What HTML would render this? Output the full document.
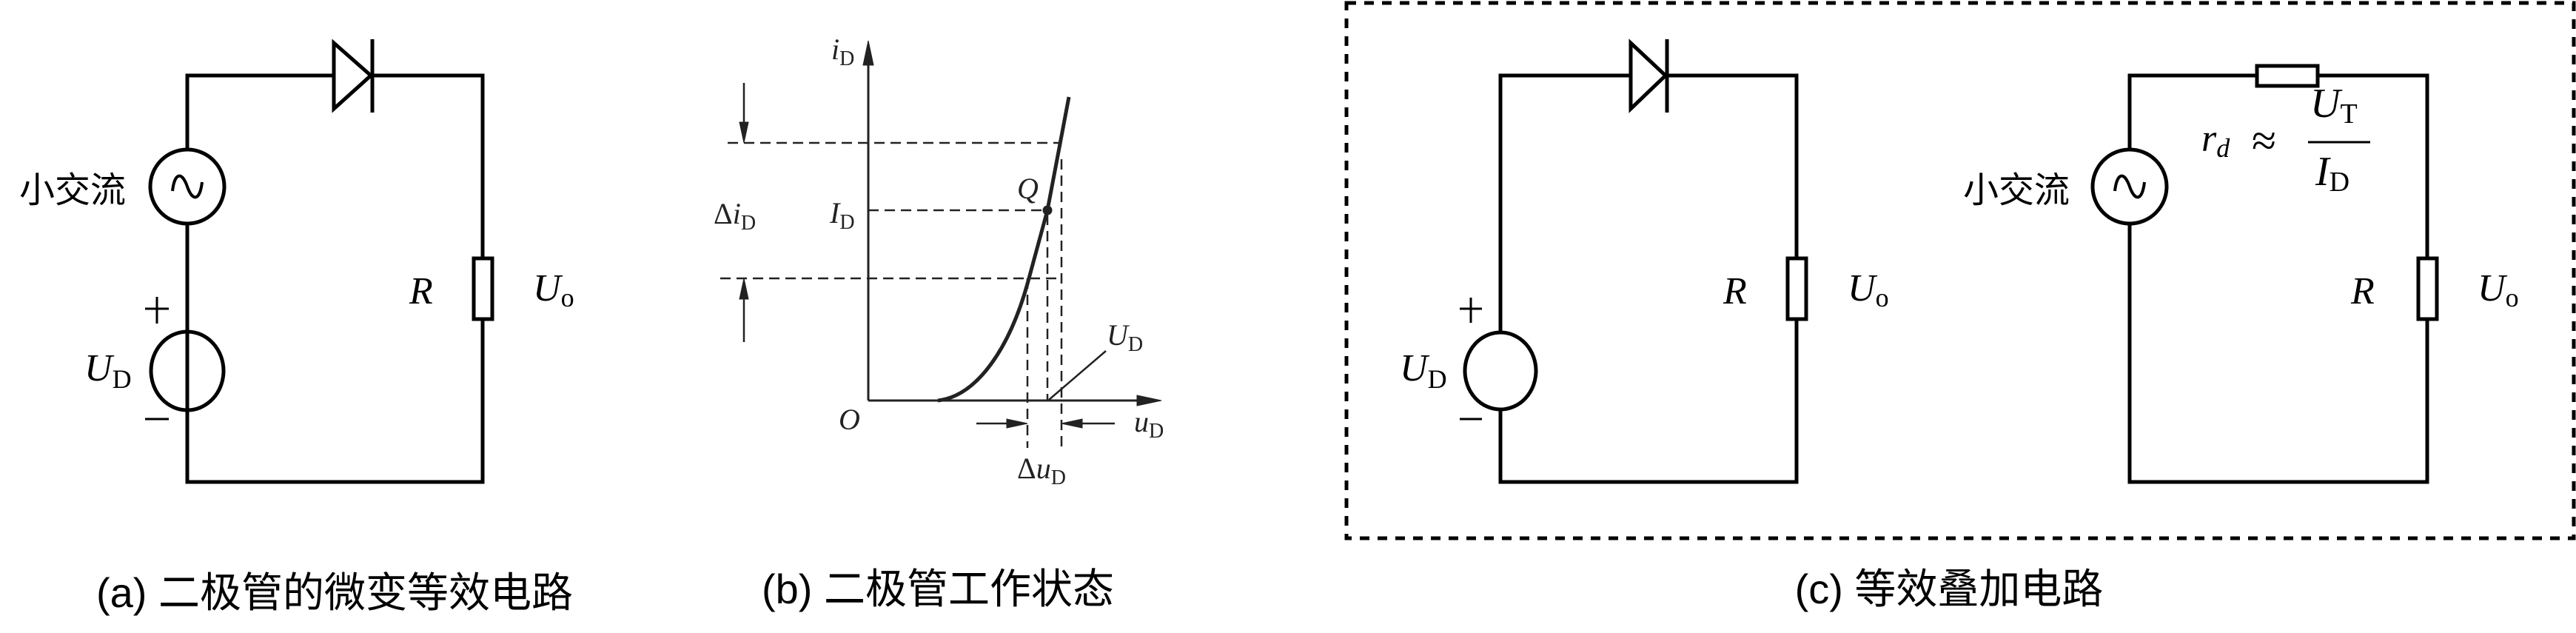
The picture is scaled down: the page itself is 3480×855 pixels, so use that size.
<!DOCTYPE html>
<html><head><meta charset="utf-8"><style>
html,body{margin:0;padding:0;background:#fff;}
svg{display:block;}
.s{font-family:"Liberation Serif",serif;font-style:italic;}
.r{font-family:"Liberation Serif",serif;font-style:normal;}
.c{font-family:"Liberation Sans","Noto Sans CJK SC",sans-serif;}
</style></head><body>
<svg width="3480" height="855" viewBox="0 0 3480 855" xmlns="http://www.w3.org/2000/svg">
<g stroke="#000" stroke-width="5" fill="none">
<polyline points="253,202 253,102 652,102 652,349"/>
<polyline points="652,431 652,651 253,651 253,554"/>
<line x1="253" y1="302" x2="253" y2="448"/>
<polygon points="451,58 451,147 501,102" fill="#fff"/>
<line x1="503" y1="53" x2="503" y2="152"/>
<circle cx="253" cy="252" r="50" fill="#fff"/>
<path d="M233,258 C236,232 246,232 253,252 C260,272 270,272 273,246" stroke-width="4"/>
<ellipse cx="253" cy="501" rx="49" ry="53" fill="#fff"/>
<line x1="253" y1="448" x2="253" y2="554"/>
<rect x="640" y="349" width="25" height="82" fill="#fff"/>
<line x1="196" y1="417" x2="228" y2="417" stroke-width="3"/>
<line x1="212" y1="401" x2="212" y2="437" stroke-width="3"/>
<line x1="196" y1="566" x2="228" y2="566" stroke-width="3"/>
<rect x="1819" y="4" width="1658" height="723" stroke-width="5" stroke-dasharray="13,11"/>
<polyline points="2027,448 2027,102 2427,102 2427,349"/>
<polyline points="2427,431 2427,651 2027,651 2027,554"/>
<polygon points="2203,58 2203,147 2250,102" fill="#fff"/>
<line x1="2252" y1="53" x2="2252" y2="152"/>
<ellipse cx="2027" cy="501" rx="48" ry="52" fill="#fff"/>
<rect x="2415" y="349" width="25" height="82" fill="#fff"/>
<line x1="1972" y1="417" x2="2002" y2="417" stroke-width="3"/>
<line x1="1987" y1="402" x2="1987" y2="436" stroke-width="3"/>
<line x1="1972" y1="566" x2="2002" y2="566" stroke-width="3"/>
<polyline points="2877,202 2877,102 3279,102 3279,349"/>
<polyline points="3279,431 3279,651 2877,651 2877,302"/>
<rect x="3049" y="89" width="82" height="27" fill="#fff"/>
<circle cx="2877" cy="252" r="50" fill="#fff"/>
<path d="M2857,258 C2860,232 2870,232 2877,252 C2884,272 2894,272 2897,246" stroke-width="4"/>
<rect x="3267" y="349" width="25" height="82" fill="#fff"/>
<line x1="3118" y1="192" x2="3202" y2="192" stroke-width="3"/>
</g>
<g stroke="#222" fill="none">
<line x1="1173" y1="541" x2="1173" y2="75" stroke-width="3"/>
<polygon points="1173,55 1166,88 1180,88" fill="#222"/>
<line x1="1173" y1="541" x2="1550" y2="541" stroke-width="3"/>
<polygon points="1569,541 1536,534 1536,548" fill="#222"/>
<path d="M1267,541 C1320,535 1365,470 1390,376 L1415,284 L1444,131" stroke-width="5"/>
<circle cx="1415" cy="284" r="6" fill="#222"/>
<g stroke-width="2.5" stroke-dasharray="14,8">
<line x1="983" y1="193" x2="1434" y2="193"/>
<line x1="1173" y1="284" x2="1415" y2="284"/>
<line x1="973" y1="376" x2="1434" y2="376"/>
<line x1="1388" y1="376" x2="1388" y2="605"/>
<line x1="1415" y1="290" x2="1415" y2="541"/>
<line x1="1434" y1="215" x2="1434" y2="605"/>
</g>
<g stroke-width="2.5">
<line x1="1005" y1="112" x2="1005" y2="175"/>
<line x1="1005" y1="462" x2="1005" y2="395"/>
<line x1="1319" y1="572" x2="1370" y2="572"/>
<line x1="1506" y1="572" x2="1452" y2="572"/>
<line x1="1417" y1="540" x2="1494" y2="474"/>
</g>
<polygon points="1005,193 999,165 1011,165" fill="#222"/>
<polygon points="1005,376 999,404 1011,404" fill="#222"/>
<polygon points="1388,572 1360,566 1360,578" fill="#222"/>
<polygon points="1434,572 1462,566 1462,578" fill="#222"/>
</g>
<g fill="#222" font-size="40">
<text x="1123" y="80" class="s">i<tspan class="r" font-size="28" dy="8">D</tspan></text>
<text x="964" y="302" class="r">Δ<tspan class="s">i</tspan><tspan font-size="28" dy="8">D</tspan></text>
<text x="1121" y="301" class="s">I<tspan class="r" font-size="28" dy="8">D</tspan></text>
<text x="1374" y="268" class="s">Q</text>
<text x="1495" y="466" class="s">U<tspan class="r" font-size="28" dy="8">D</tspan></text>
<text x="1133" y="580" class="s">O</text>
<text x="1532" y="583" class="s">u<tspan class="r" font-size="28" dy="8">D</tspan></text>
<text x="1374" y="646" class="r">Δ<tspan class="s">u</tspan><tspan font-size="28" dy="8">D</tspan></text>
</g>
<g fill="#000">
<text x="26" y="273" class="c" font-size="48">小交流</text>
<text x="553" y="410" class="s" font-size="52">R</text>
<text x="720" y="406" class="s" font-size="52">U<tspan class="r" font-size="36" dy="8">o</tspan></text>
<text x="114" y="514" class="s" font-size="52">U<tspan class="r" font-size="36" dy="10">D</tspan></text>
<text x="452" y="820" class="c" font-size="56" text-anchor="middle">(a) 二极管的微变等效电路</text>
<text x="1267" y="815" class="c" font-size="56" text-anchor="middle">(b) 二极管工作状态</text>
<text x="2633" y="815" class="c" font-size="56" text-anchor="middle">(c) 等效叠加电路</text>
<text x="1891" y="514" class="s" font-size="52">U<tspan class="r" font-size="36" dy="10">D</tspan></text>
<text x="2328" y="410" class="s" font-size="52">R</text>
<text x="2496" y="406" class="s" font-size="52">U<tspan class="r" font-size="36" dy="8">o</tspan></text>
<text x="2652" y="273" class="c" font-size="48">小交流</text>
<text x="3176" y="410" class="s" font-size="52">R</text>
<text x="3347" y="406" class="s" font-size="52">U<tspan class="r" font-size="36" dy="8">o</tspan></text>
<text x="2974" y="204" class="s" font-size="52">r<tspan font-size="36" dy="8">d</tspan></text>
<text x="3042" y="210" class="r" font-size="60">≈</text>
<text x="3121" y="158" class="s" font-size="56">U<tspan class="r" font-size="38" dy="8">T</tspan></text>
<text x="3128" y="250" class="s" font-size="56">I<tspan class="r" font-size="38" dy="8">D</tspan></text>
</g>
</svg>
</body></html>
